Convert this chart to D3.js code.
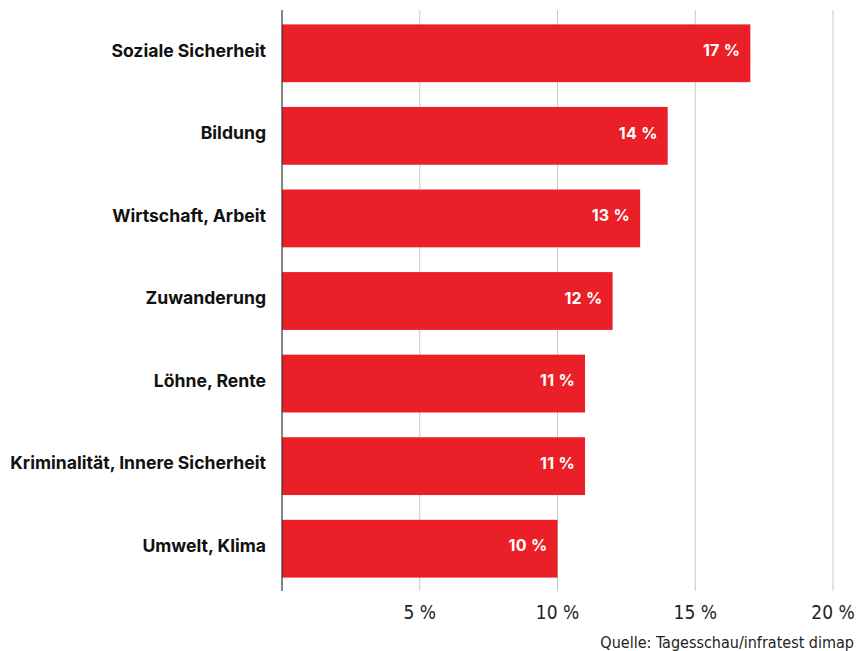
<!DOCTYPE html>
<html>
<head>
<meta charset="utf-8">
<script src="https://cdn.jsdelivr.net/npm/d3@7"></script>
<style>
  body { margin: 0; background: #fff; }
  svg { display: block; }
  .label { font-family: Inter, "Noto Sans", sans-serif; font-weight: 700; font-size: 17.6px; fill: #111; }
  .value { font-family: Inter, "Noto Sans", sans-serif; font-weight: 700; font-size: 16px; fill: #fff; letter-spacing: 0.3px; }
  .tick-label, .source { font-family: "DejaVu Sans Condensed", "DejaVu Sans", sans-serif; font-stretch: condensed; fill: #222; }
  .tick-label { font-size: 19px; }
  .source { font-size: 16px; }
</style>
</head>
<body>
<svg id="chart" width="862" height="651"></svg>
<script>
// data
const categories = ['Soziale Sicherheit', 'Bildung', 'Wirtschaft, Arbeit', 'Zuwanderung',
    'Löhne, Rente', 'Kriminalität, Innere Sicherheit', 'Umwelt, Klima'];
const values = [17, 14, 13, 12, 11, 11, 10];
const ticks = [5, 10, 15, 20];
const source = 'Quelle: Tagesschau/infratest dimap';

const svg = d3.select('#chart');

const x = d3.scaleLinear().domain([0, 20]).range([282, 833]);
const y = d3.scaleBand().domain(categories).range([12, 590])
    .paddingInner(0.3).paddingOuter(0.15);

// gridlines
svg.append('g').selectAll('line')
    .data(ticks)
    .enter().append('line')
    .attr('x1', d => x(d)).attr('x2', d => x(d))
    .attr('y1', 10).attr('y2', 591)
    .style('stroke', '#c8c8c8')
    .style('stroke-width', 1);

// bars
svg.append('g').selectAll('rect')
    .data(values)
    .enter().append('rect')
    .attr('x', x(0))
    .attr('y', (d, i) => y(categories[i]))
    .attr('width', d => x(d) - x(0))
    .attr('height', y.bandwidth())
    .style('fill', '#ea1f27');

// value labels inside bars
svg.append('g').selectAll('text')
    .data(values)
    .enter().append('text')
    .attr('class', 'value')
    .attr('x', d => x(d) - 10)
    .attr('y', (d, i) => y(categories[i]) + y.bandwidth() / 2 - 3)
    .attr('dy', '0.36em')
    .attr('text-anchor', 'end')
    .text(d => d + ' %');

// category labels
svg.append('g').selectAll('text')
    .data(categories)
    .enter().append('text')
    .attr('class', 'label')
    .attr('x', 266)
    .attr('y', d => y(d) + y.bandwidth() / 2 - 3)
    .attr('dy', '0.36em')
    .attr('text-anchor', 'end')
    .text(d => d);

// axis line
svg.append('line')
    .attr('x1', x(0)).attr('x2', x(0))
    .attr('y1', 10).attr('y2', 591)
    .style('stroke', '#333')
    .style('stroke-width', 1.2);

// tick labels
svg.append('g').selectAll('text')
    .data(ticks)
    .enter().append('text')
    .attr('class', 'tick-label')
    .attr('x', d => x(d))
    .attr('y', 619)
    .attr('text-anchor', 'middle')
    .text(d => d + ' %');

svg.append('text')
    .attr('class', 'source')
    .attr('x', 854)
    .attr('y', 648)
    .attr('text-anchor', 'end')
    .text(source);
</script>
</body>
</html>
